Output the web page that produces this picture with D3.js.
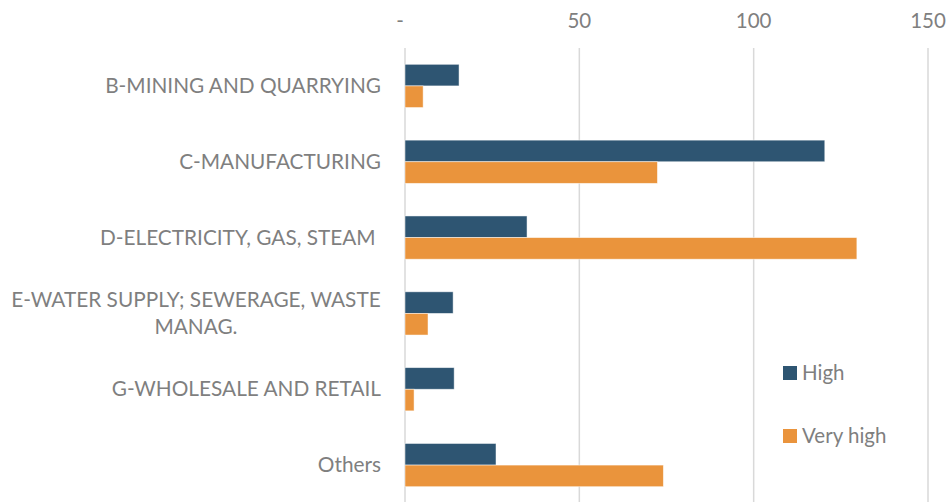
<!DOCTYPE html>
<html>
<head>
<meta charset="utf-8">
<script src="https://cdn.jsdelivr.net/npm/d3@7"></script>
<style>
  body { margin: 0; background: #fff; }
  text { font-family: Lato, "Open Sans", sans-serif; fill: #7f7f7f; }
</style>
</head>
<body>
<div id="chart"></div>
<script>
// Data
const sectors = [
    ["B-MINING AND QUARRYING"],
    ["C-MANUFACTURING"],
    ["D-ELECTRICITY, GAS, STEAM "],
    ["E-WATER SUPPLY; SEWERAGE, WASTE", "MANAG."],
    ["G-WHOLESALE AND RETAIL"],
    ["Others"]
];
const highValues = [15.5, 120.4, 35, 13.8, 14.1, 26.1];
const veryHighValues = [5.2, 72.4, 129.6, 6.6, 2.6, 74.1];
const seriesNames = ["High", "Very high"];
const seriesColors = ["#2e5572", "#ea943c"];
const tickValues = [0, 50, 100, 150];

const width = 950, height = 502;

const svg = d3.select("#chart")
    .append("svg")
    .attr("width", width)
    .attr("height", height);

// Scales
const xScale = d3.scaleLinear()
    .domain([0, 150])
    .range([405, 928]);

const yScale = d3.scaleBand()
    .domain(d3.range(sectors.length))
    .range([48, 503])
    .paddingInner(0.43)
    .paddingOuter(0.215);

const sub = d3.scaleBand()
    .domain([0, 1])
    .range([0, yScale.bandwidth()]);

// Gridlines
svg.append("g")
    .selectAll("line")
    .data(tickValues)
    .enter()
    .append("line")
    .attr("x1", d => xScale(d))
    .attr("x2", d => xScale(d))
    .attr("y1", 48)
    .attr("y2", height)
    .style("stroke", "#d9d9d9")
    .style("stroke-width", 1.5);

// Top axis labels
svg.append("g")
    .selectAll("text")
    .data(tickValues)
    .enter()
    .append("text")
    .attr("x", d => xScale(d) - (d === 0 ? 5 : 0))
    .attr("y", 28)
    .style("text-anchor", "middle")
    .style("font-size", "20.5px")
    .text(d => d === 0 ? "-" : d);

// Bars
const series = [highValues, veryHighValues];
series.forEach((vals, s) => {
    svg.append("g")
        .selectAll("rect")
        .data(vals)
        .enter()
        .append("rect")
        .attr("x", xScale(0))
        .attr("y", (d, i) => yScale(i) + sub(s))
        .attr("width", d => xScale(d) - xScale(0))
        .attr("height", sub.bandwidth())
        .style("fill", seriesColors[s])
        .style("stroke", "#fff")
        .style("stroke-opacity", 0.6)
        .style("stroke-width", 0.8);
});

// Category labels
const labels = svg.append("g")
    .selectAll("g")
    .data(sectors)
    .enter()
    .append("g")
    .attr("transform", (d, i) => `translate(0, ${yScale(i) + yScale.bandwidth() / 2})`);

labels.each(function (lines) {
    const g = d3.select(this);
    const lh = 27;
    const t = g.append("text")
        .style("font-size", "20.8px")
        .attr("xml:space", "preserve")
        .style("white-space", "pre");
    if (lines.length === 1) {
        t.attr("x", 381).attr("y", 7).style("text-anchor", "end").text(lines[0]);
    } else {
        // wrapped label: lines centered on each other, block right aligned
        t.style("text-anchor", "middle");
        lines.forEach((ln, k) => {
            t.append("tspan")
                .attr("x", 196)
                .attr("y", 7 + (k - (lines.length - 1) / 2) * lh)
                .text(ln);
        });
    }
});

// Legend
const legend = svg.append("g")
    .selectAll("g")
    .data(seriesNames)
    .enter()
    .append("g")
    .attr("transform", (d, i) => `translate(783, ${366 + i * 63})`);

legend.append("rect")
    .attr("width", 14)
    .attr("height", 14)
    .style("fill", (d, i) => seriesColors[i]);

legend.append("text")
    .attr("x", 19)
    .attr("y", 14)
    .style("font-size", "20.5px")
    .text(d => d);
</script>
</body>
</html>
